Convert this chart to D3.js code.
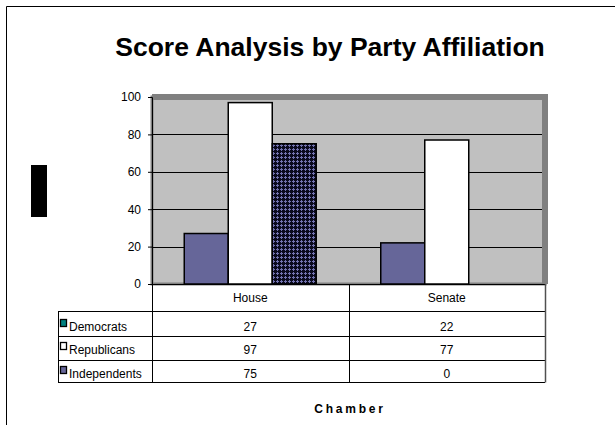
<!DOCTYPE html>
<html>
<head>
<meta charset="utf-8">
<script src="https://cdn.jsdelivr.net/npm/d3@7"></script>
<style>
  body { margin: 0; background: #fff; overflow: hidden; }
  svg { display: block; }
  text { font-family: "Liberation Sans", Arial, sans-serif; }
</style>
</head>
<body>
<script>
// chart data
const categories = ["House", "Senate"]
const series = ["Democrats", "Republicans", "Independents"]
const democrats = [27, 22]
const republicans = [97, 77]
const independents = [75, 0]
const yTicks = [0, 20, 40, 60, 80, 100]

const values = [democrats, republicans, independents]
const barFill = ["#666699", "#ffffff", "url(#dots)"]
const swatchFill = ["#008080", "#ffffff", "#666699"]

const svg = d3.select("body").append("svg")
    .attr("width", 615)
    .attr("height", 425)

// dotted pattern for independents
const pat = svg.append("defs").append("pattern")
    .attr("id", "dots")
    .attr("patternUnits", "userSpaceOnUse")
    .attr("width", 4).attr("height", 4)
pat.append("rect").attr("width", 4).attr("height", 4).attr("fill", "#0a0a1e")
pat.append("rect").attr("x", 1).attr("y", 0).attr("width", 1).attr("height", 3).attr("fill", "#7373b0")
pat.append("rect").attr("x", 0).attr("y", 1).attr("width", 3).attr("height", 1).attr("fill", "#7373b0")

// outer frame (only left and top edges are inside the picture)
svg.append("path")
    .attr("d", "M6.5,425 V6.5 H615")
    .attr("fill", "none").attr("stroke", "#000")

// title
svg.append("text")
    .attr("x", 330).attr("y", 56)
    .attr("text-anchor", "middle")
    .attr("font-size", 26.5).attr("font-weight", "bold")
    .text("Score Analysis by Party Affiliation")

// black block on the left (axis title placeholder)
svg.append("rect")
    .attr("x", 31).attr("y", 165)
    .attr("width", 16).attr("height", 52)
    .attr("fill", "#000")

const plotL = 152, plotR = 545, plotT = 97, plotB = 284

const x = d3.scaleBand().domain(categories).range([plotL, plotR])
const xSub = d3.scaleBand().domain(series).range([0, x.bandwidth()]).paddingOuter(0.733)
const y = d3.scaleLinear().domain([0, 100]).range([plotB, plotT])

// plot area
svg.append("rect")
    .attr("x", plotL).attr("y", plotT)
    .attr("width", plotR - plotL).attr("height", plotB - plotT)
    .attr("fill", "#c0c0c0")
    .attr("stroke", "#808080").attr("stroke-width", 3)
svg.append("path")
    .attr("d", `M${plotL},${plotT} H${plotR} V${plotB}`)
    .attr("fill", "none")
    .attr("stroke", "#808080").attr("stroke-width", 6)

// gridlines
svg.append("g")
    .selectAll("line")
    .data(yTicks.filter(d => d > 0 && d < 100))
    .enter().append("line")
    .attr("x1", plotL + 1).attr("x2", plotR - 3)
    .attr("y1", d => Math.round(y(d)) + 0.5).attr("y2", d => Math.round(y(d)) + 0.5)
    .attr("stroke", "#000")

// bars
const groups = svg.append("g")
    .selectAll("g")
    .data(categories)
    .enter().append("g")
    .attr("transform", d => "translate(" + x(d) + ",0)")

groups.selectAll("rect")
    .data((c, ci) => series.map((s, si) => ({ s: s, si: si, v: values[si][ci] })).filter(d => d.v > 0))
    .enter().append("rect")
    .attr("x", d => xSub(d.s))
    .attr("y", d => y(d.v))
    .attr("width", xSub.bandwidth())
    .attr("height", d => plotB - y(d.v))
    .attr("fill", d => barFill[d.si])
    .attr("stroke", "#000").attr("stroke-width", 1.5)

// y axis
const yAxis = svg.append("g")
    .attr("transform", "translate(" + plotL + ",0)")
    .call(d3.axisLeft(y).tickValues(yTicks).tickSize(4).tickPadding(7))
yAxis.selectAll("text").attr("font-size", 12).attr("font-family", "Liberation Sans, Arial, sans-serif").attr("fill", "#000")
yAxis.selectAll("line").attr("stroke", "#000")
yAxis.select(".domain").attr("stroke", "#000")

svg.append("line")
    .attr("x1", plotL - 4).attr("x2", plotR)
    .attr("y1", plotB + 0.5).attr("y2", plotB + 0.5)
    .attr("stroke", "#000")

// data table
const tLeft = 58, headBottom = 311
const rowLines = [311, 336, 360, 382]
const rowText = [328, 351, 375]

const table = svg.append("g")
table.selectAll("line.h")
    .data(rowLines)
    .enter().append("line")
    .attr("x1", tLeft).attr("x2", plotR)
    .attr("y1", d => d + 0.5).attr("y2", d => d + 0.5)
    .attr("stroke", "#000")

table.append("line")
    .attr("x1", tLeft + 0.5).attr("x2", tLeft + 0.5)
    .attr("y1", headBottom).attr("y2", 382.5)
    .attr("stroke", "#000")

table.selectAll("line.v")
    .data(categories.map(c => x(c)).concat([plotR]))
    .enter().append("line")
    .attr("x1", d => Math.round(d) + 0.5).attr("x2", d => Math.round(d) + 0.5)
    .attr("y1", plotB).attr("y2", 382.5)
    .attr("stroke", (d, i) => i === 2 ? "#505050" : "#000")
    .attr("stroke-width", (d, i) => i === 2 ? 1.5 : 1)

table.selectAll("text.head")
    .data(categories)
    .enter().append("text")
    .attr("x", d => x(d) + x.bandwidth() / 2)
    .attr("y", 302)
    .attr("text-anchor", "middle")
    .attr("font-size", 12)
    .text(d => d)

series.forEach((s, si) => {
    table.append("rect")
        .attr("x", 60.5).attr("y", rowText[si] - 8.5)
        .attr("width", 6).attr("height", 7)
        .attr("fill", swatchFill[si])
        .attr("stroke", "#000").attr("stroke-width", 1.3)
    table.append("text")
        .attr("x", 69).attr("y", rowText[si] + 3)
        .attr("font-size", 12)
        .text(s)
    table.selectAll(null)
        .data(categories)
        .enter().append("text")
        .attr("x", d => x(d) + x.bandwidth() / 2)
        .attr("y", rowText[si] + 3)
        .attr("text-anchor", "middle")
        .attr("font-size", 12)
        .text((d, ci) => values[si][ci])
})

// x axis title
svg.append("text")
    .attr("x", 350).attr("y", 413)
    .attr("text-anchor", "middle")
    .attr("font-size", 12).attr("font-weight", "bold")
    .attr("letter-spacing", 2.8)
    .text("Chamber")
</script>
</body>
</html>
